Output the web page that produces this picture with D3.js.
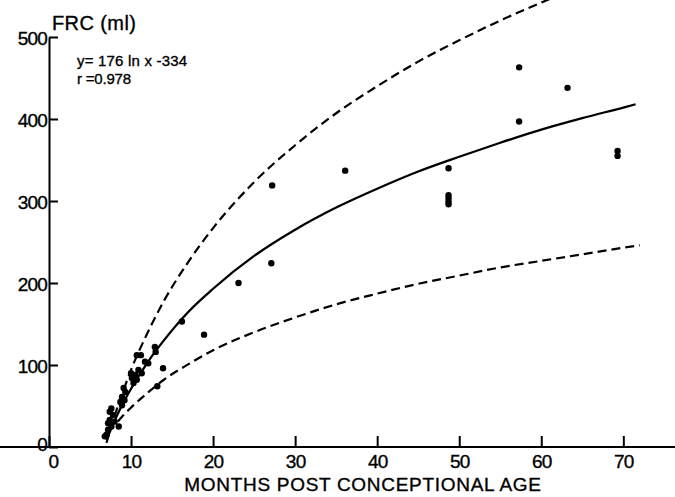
<!DOCTYPE html>
<html>
<head>
<meta charset="utf-8">
<script src="https://cdn.jsdelivr.net/npm/d3@7"></script>
<style>
  body { margin: 0; background: #fff; }
  svg { display: block; font-family: "Liberation Sans", Arial, sans-serif; }
  text { stroke: #000; stroke-width: 0.35; }
</style>
</head>
<body>
<div id="chart"></div>
<script>
// Measured points (months post conceptional age, FRC ml)
const ptX = [6.8, 7.0, 7.2, 7.2, 7.4, 7.6, 8.0, 8.5, 7.8, 7.4, 7.6, 8.9, 8.7, 9.2, 8.9, 9.3, 9.1,
  10.3, 10.7, 10.1, 10.5, 10.0, 11.3, 10.9, 11.7, 12.1, 10.7, 11.2, 12.9, 13.0, 13.9, 13.2,
  16.2, 18.9, 23.1, 27.2, 27.1, 36.1, 48.7, 48.7, 48.7, 48.7, 48.7, 57.3, 57.3, 63.2, 69.3, 69.3];
const ptY = [13, 15, 21, 29, 33, 25, 31, 25, 39, 43, 47, 51, 55, 57, 61, 67, 72,
  78, 82, 84, 88, 90, 90, 94, 104, 102, 112, 112, 122, 116, 96, 74,
  153, 137, 200, 319, 224, 337, 340, 307, 303, 299, 296, 463, 397, 438, 361, 355];

// Regression curve y = 176 ln x - 334
const fitX = [7, 8, 9, 10, 12, 14, 17, 20, 25, 30, 35, 40, 45, 50, 55, 60, 65, 70, 71.5];
const fitY = [8.5, 32, 53, 71, 103, 130, 165, 193, 233, 265, 292, 315, 336, 354, 371, 387, 401, 414, 418];

// Upper and lower dashed limits
const upperX = [7, 8, 9, 10, 12, 14, 17, 20, 25, 30, 35, 40, 45, 50, 55, 60, 65];
const upperY = [5, 38, 67, 94, 139, 178, 226, 267, 323, 368, 407, 440, 470, 496, 520, 542, 562];
const lowerX = [8.4, 9, 10, 12, 14, 17, 20, 25, 30, 35, 40, 45, 50, 55, 60, 65, 70, 72];
const lowerY = [31, 38, 48, 66, 82, 101, 118, 140, 158, 174, 187, 199, 209, 219, 227, 235, 243, 246];

const xTicks = [0, 10, 20, 30, 40, 50, 60, 70];
const yTicks = [0, 100, 200, 300, 400, 500];

const W = 675, H = 497;
const svg = d3.select("#chart").append("svg")
  .attr("width", W).attr("height", H);

const x = d3.scaleLinear().domain([0, 76.3]).range([49, 675]);
const y = d3.scaleLinear().domain([0, 500]).range([447, 37]);

// axes
const xAxis = svg.append("g")
  .attr("transform", `translate(0,${y(0)})`)
  .call(d3.axisBottom(x).tickValues(xTicks).tickSizeInner(-11).tickSizeOuter(0).tickPadding(8));
const yAxis = svg.append("g")
  .attr("transform", `translate(${x(0)},0)`)
  .call(d3.axisLeft(y).tickValues(yTicks).tickSizeInner(-9).tickSizeOuter(0).tickPadding(2));

[xAxis, yAxis].forEach(g => {
  g.select(".domain").attr("stroke", "#000").attr("stroke-width", 2);
  g.selectAll(".tick line").attr("stroke", "#000").attr("stroke-width", 2);
  g.selectAll(".tick text").attr("fill", "#000").attr("font-size", 19)
    .attr("font-family", "Liberation Sans, Arial, sans-serif").attr("letter-spacing", -0.8);
});
yAxis.selectAll(".tick text").attr("dy", d => d === 0 ? "0.2em" : "0.42em");
xAxis.selectAll(".tick text").attr("dx", d => d === 0 ? 4 : 0);
xAxis.select(".domain").attr("d", `M0,0H${W}`);

const line = (xs, ys) => d3.line()
  .x(i => x(xs[i]))
  .y(i => y(ys[i]))
  .curve(d3.curveMonotoneX)(d3.range(xs.length));

svg.append("path")
  .attr("d", line(upperX, upperY))
  .attr("fill", "none").attr("stroke", "#000").attr("stroke-width", 2.2)
  .attr("stroke-dasharray", "9,5");
svg.append("path")
  .attr("d", line(lowerX, lowerY))
  .attr("fill", "none").attr("stroke", "#000").attr("stroke-width", 2.2)
  .attr("stroke-dasharray", "9,5");
svg.append("path")
  .attr("d", line(fitX, fitY))
  .attr("fill", "none").attr("stroke", "#000").attr("stroke-width", 2.3);

// data points
svg.append("g").selectAll("circle")
  .data(d3.range(ptX.length))
  .join("circle")
  .attr("cx", i => x(ptX[i]))
  .attr("cy", i => y(ptY[i]))
  .attr("r", 3.2)
  .attr("fill", "#000");

// labels
svg.append("text").attr("x", 52).attr("y", 30)
  .attr("font-size", 20).attr("letter-spacing", 0.4).text("FRC (ml)");
svg.append("text").attr("x", 77).attr("y", 66)
  .attr("font-size", 15).attr("letter-spacing", 0.2).text("y= 176 ln x -334");
svg.append("text").attr("x", 77).attr("y", 84)
  .attr("font-size", 15).attr("letter-spacing", -0.2).text("r =0.978");
svg.append("text").attr("x", 363).attr("y", 491)
  .attr("text-anchor", "middle").attr("font-size", 19).attr("letter-spacing", 0.7)
  .text("MONTHS POST CONCEPTIONAL AGE");
</script>
</body>
</html>
